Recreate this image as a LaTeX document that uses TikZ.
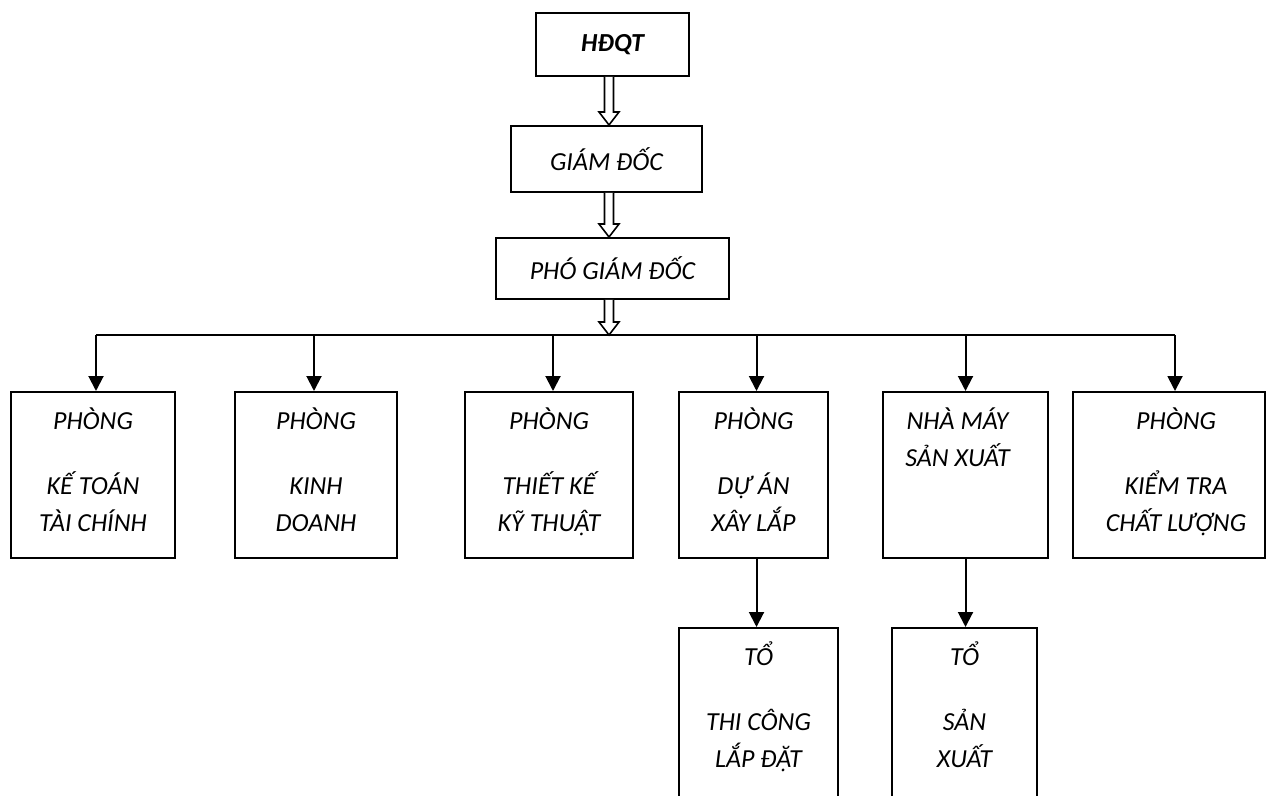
\documentclass[tikz,border=0pt]{standalone}
\usepackage{fontspec}
\setmainfont{Carlito}
\usetikzlibrary{calc,positioning,arrows.meta}

\newcommand\orgfont{\itshape\fontsize{13}{18.5}\selectfont}

\tikzset{
    box/.style={draw, line width=1pt, inner sep=0pt, font=\orgfont},
    boxtext/.style={inner sep=0pt, align=center, font=\orgfont},
    arr/.style={-{Triangle[width=7.5pt, length=7.5pt]}, line width=1pt},
    hollow/.style={line width=0.8pt, fill=white},
}

% hollow double arrow from #1 down to #2
\newcommand\hollowarrow[2]{%
    \draw[hollow] ($(#1)+(-4.5,0)$) -- ($(#2)+(-4.5,13)$) -- ($(#2)+(-10,13)$)
        -- (#2) -- ($(#2)+(10,13)$) -- ($(#2)+(4.5,13)$) -- ($(#1)+(4.5,0)$);}

\begin{document}
\begin{tikzpicture}[x=0.5pt, y=0.5pt]
    \useasboundingbox (0, 0) rectangle (1272, -796);
    \clip (0, 0) rectangle (1272, -796);

    % top of the chart
    \node[box, minimum width=76.5pt, minimum height=31.5pt, font=\orgfont\bfseries] (hdqt) at (612.5, -44.5) {HĐQT};
    \node[box, minimum width=95.5pt, minimum height=33pt] (gd) at (606.5, -159) {GIÁM ĐỐC};
    \node[box, minimum width=116.5pt, minimum height=30.5pt] (pgd) at (612.5, -268.5) {PHÓ GIÁM ĐỐC};

    \coordinate (spine) at (609, 0);
    \coordinate (bus) at (0, -335);

    \hollowarrow{hdqt.south -| spine}{gd.north -| spine}
    \hollowarrow{gd.south -| spine}{pgd.north -| spine}
    \hollowarrow{pgd.south -| spine}{bus -| spine}

    % departments
    \node[box, minimum width=82pt, minimum height=83pt] (ketoan) at (93, -475) {};
    \node[box, minimum width=81pt, minimum height=83pt] (kinhdoanh) at (316, -475) {};
    \node[box, minimum width=84pt, minimum height=83pt] (thietke) at (549, -475) {};
    \node[box, minimum width=74.5pt, minimum height=83pt] (duan) at (753.5, -475) {};
    \node[box, minimum width=82.5pt, minimum height=83pt] (nhamay) at (965.5, -475) {};
    \node[box, minimum width=96pt, minimum height=83pt] (kiemtra) at (1169, -475) {};

    \node[boxtext, below=6pt of ketoan.north] (ketoan-t) {\rule{0pt}{13pt}PHÒNG\\[14pt]KẾ TOÁN\\TÀI CHÍNH};
    \node[boxtext, below=6pt of kinhdoanh.north] (kinhdoanh-t) {\rule{0pt}{13pt}PHÒNG\\[14pt]KINH\\DOANH};
    \node[boxtext, below=6pt of thietke.north] (thietke-t) {\rule{0pt}{13pt}PHÒNG\\[14pt]THIẾT KẾ\\KỸ THUẬT};
    \node[boxtext, below=6pt of duan.north] (duan-t) {\rule{0pt}{13pt}PHÒNG\\[14pt]DỰ ÁN\\XÂY LẮP};
    \node[boxtext, below=6pt of nhamay.north, xshift=-4pt] (nhamay-t) {\rule{0pt}{13pt}NHÀ MÁY\\SẢN XUẤT};
    \node[boxtext, below=6pt of kiemtra.north, xshift=3.5pt] (kiemtra-t) {\rule{0pt}{13pt}PHÒNG\\[14pt]KIỂM TRA\\CHẤT LƯỢNG};

    \draw[line width=1pt] ([xshift=1.5pt]ketoan.north |- bus) -- ([xshift=3pt]kiemtra.north |- bus);
    \foreach \b/\s in {ketoan/1.5, kinhdoanh/-1, thietke/2, duan/1.5, nhamay/0, kiemtra/3}
        \draw[arr] ([xshift=\s pt]\b.north |- bus) -- ([xshift=\s pt]\b.north);

    % teams
    \node[box, minimum width=79.5pt, minimum height=100pt] (thicong) at (758.5, -728) {};
    \node[box, minimum width=72.5pt, minimum height=100pt] (sanxuat) at (964.5, -728) {};

    \node[boxtext, below=6pt of thicong.north] (thicong-t) {\rule{0pt}{13pt}TỔ\\[14pt]THI CÔNG\\LẮP ĐẶT};
    \node[boxtext, below=6pt of sanxuat.north] (sanxuat-t) {\rule{0pt}{13pt}TỔ\\[14pt]SẢN\\XUẤT};

    \draw[arr] ([xshift=1.5pt]duan.south) -- ([xshift=1.5pt]duan.south |- thicong.north);
    \draw[arr] (nhamay.south) -- (nhamay.south |- sanxuat.north);
\end{tikzpicture}
\end{document}
